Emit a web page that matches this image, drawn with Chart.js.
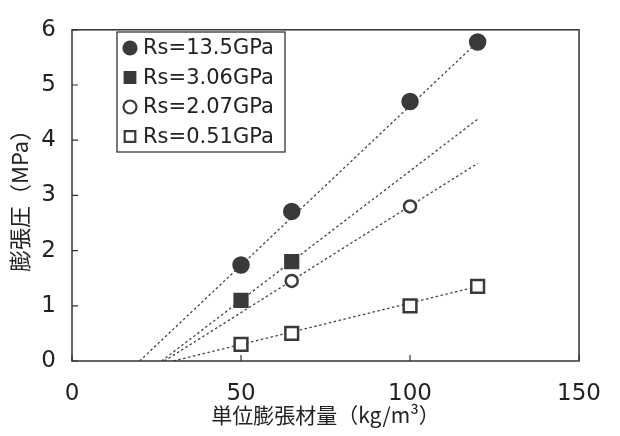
<!DOCTYPE html>
<html>
<head>
<meta charset="utf-8">
<script src="https://cdn.jsdelivr.net/npm/chart.js@4"></script>
<style>
html,body{margin:0;padding:0;background:#fff;}
#wrap{width:620px;height:436px;}
</style>
</head>
<body>
<div id="wrap"><canvas id="chart"></canvas></div>
<script>
// measured points (kg/m3 -> MPa)
const labels = ["Rs=13.5GPa", "Rs=3.06GPa", "Rs=2.07GPa", "Rs=0.51GPa"];
const xs135 = [50, 65, 100, 120];
const ys135 = [1.74, 2.71, 4.7, 5.78];
const xs306 = [50, 65];
const ys306 = [1.1, 1.8];
const xs207 = [65, 100];
const ys207 = [1.45, 2.8];
const xs051 = [50, 65, 100, 120];
const ys051 = [0.3, 0.5, 1.0, 1.35];

// fitted lines, start and end
const fitX = [[20, 120], [26.5, 120], [27.3, 120], [30, 120]];
const fitY = [[0, 5.78], [0, 4.38], [0, 3.58], [0, 1.35]];

const xTicks = [0, 50, 100, 150];
const yTicks = [0, 1, 2, 3, 4, 5, 6];

const ink = "#3a3a3a";
const styles = [
  {pointStyle: "circle", radius: 7.5, fill: ink},
  {pointStyle: "rect", radius: 9, fill: ink},
  {pointStyle: "circle", radius: 6, fill: "#fff"},
  {pointStyle: "rect", radius: 9, fill: "#fff"}
];

function pts(xs, ys) {
  return xs.map((x, i) => ({x: x, y: ys[i]}));
}

const series = [pts(xs135, ys135), pts(xs306, ys306), pts(xs207, ys207), pts(xs051, ys051)];

const datasets = [];
series.forEach((d, i) => {
  datasets.push({
    label: labels[i],
    data: d,
    showLine: false,
    pointStyle: styles[i].pointStyle,
    pointRadius: styles[i].radius,
    pointBackgroundColor: styles[i].fill,
    pointBorderColor: ink,
    pointBorderWidth: 2.5,
    order: 0
  });
});
fitX.forEach((fx, i) => {
  datasets.push({
    label: "fit" + i,
    data: pts(fx, fitY[i]),
    showLine: true,
    pointRadius: 0,
    borderColor: "#444",
    borderWidth: 1.3,
    borderDash: [2.5, 2.5],
    order: 1
  });
});

const frame = {
  id: "frame",
  afterDatasetsDraw(chart) {
    const {ctx, chartArea: a, scales} = chart;
    ctx.save();
    ctx.strokeStyle = "#333";
    ctx.lineWidth = 1.5;
    ctx.strokeRect(a.left, a.top, a.right - a.left, a.bottom - a.top);
    ctx.lineWidth = 1.2;
    ctx.beginPath();
    xTicks.forEach(v => {
      const px = scales.x.getPixelForValue(v);
      ctx.moveTo(px, a.bottom);
      ctx.lineTo(px, a.bottom - 6);
    });
    yTicks.forEach(v => {
      const py = scales.y.getPixelForValue(v);
      ctx.moveTo(a.left, py);
      ctx.lineTo(a.left + 6, py);
    });
    ctx.stroke();

    // legend box
    const bx = 117, by = 32, bw = 168, bh = 120;
    ctx.lineWidth = 1.3;
    ctx.strokeStyle = "#333";
    ctx.fillStyle = "#fff";
    ctx.fillRect(bx, by, bw, bh);
    ctx.strokeRect(bx, by, bw, bh);
    ctx.font = "21px 'DejaVu Sans'";
    ctx.textBaseline = "middle";
    labels.forEach((t, i) => {
      const cy = by + 16 + i * 29.5;
      const st = styles[i];
      ctx.fillStyle = st.fill;
      ctx.strokeStyle = ink;
      ctx.lineWidth = 2.2;
      Chart.helpers.drawPoint(ctx, {
        pointStyle: st.pointStyle,
        radius: st.pointStyle === "rect" ? 7.5 : 6.5,
        rotation: 0,
        borderWidth: 2.2
      }, bx + 13, cy);
      ctx.fillStyle = "#222";
      ctx.fillText(t, bx + 26, cy + 1);
    });
    ctx.restore();
  }
};

new Chart(document.getElementById("chart"), {
  type: "scatter",
  data: {datasets: datasets},
  options: {
    responsive: true,
    maintainAspectRatio: false,
    animation: false,
    layout: {padding: {left: 0, right: 38, top: 16, bottom: 0}},
    plugins: {legend: {display: false}, tooltip: {enabled: false}},
    scales: {
      x: {
        type: "linear",
        min: 0, max: 150,
        afterBuildTicks: s => { s.ticks = xTicks.map(v => ({value: v})); },
        afterFit: s => { s.height = 75; },
        grid: {display: false, drawTicks: false},
        border: {display: false},
        ticks: {color: "#222", padding: 19, font: {family: "DejaVu Sans", size: 23}},
        title: {
          display: true,
          text: "単位膨張材量（kg/m³）",
          color: "#222",
          font: {family: "Noto Sans CJK JP", size: 21},
          padding: {top: 0, bottom: 8}
        }
      },
      y: {
        type: "linear",
        min: 0, max: 6,
        afterBuildTicks: s => { s.ticks = yTicks.map(v => ({value: v})); },
        afterFit: s => { s.width = 72; },
        grid: {display: false, drawTicks: false},
        border: {display: false},
        ticks: {color: "#222", padding: 16, font: {family: "DejaVu Sans", size: 23}},
        title: {
          display: true,
          text: "膨張圧（MPa）",
          color: "#222",
          font: {family: "Noto Sans CJK JP", size: 22},
          padding: {top: 6, bottom: 0}
        }
      }
    }
  },
  plugins: [frame]
});
</script>
</body>
</html>
